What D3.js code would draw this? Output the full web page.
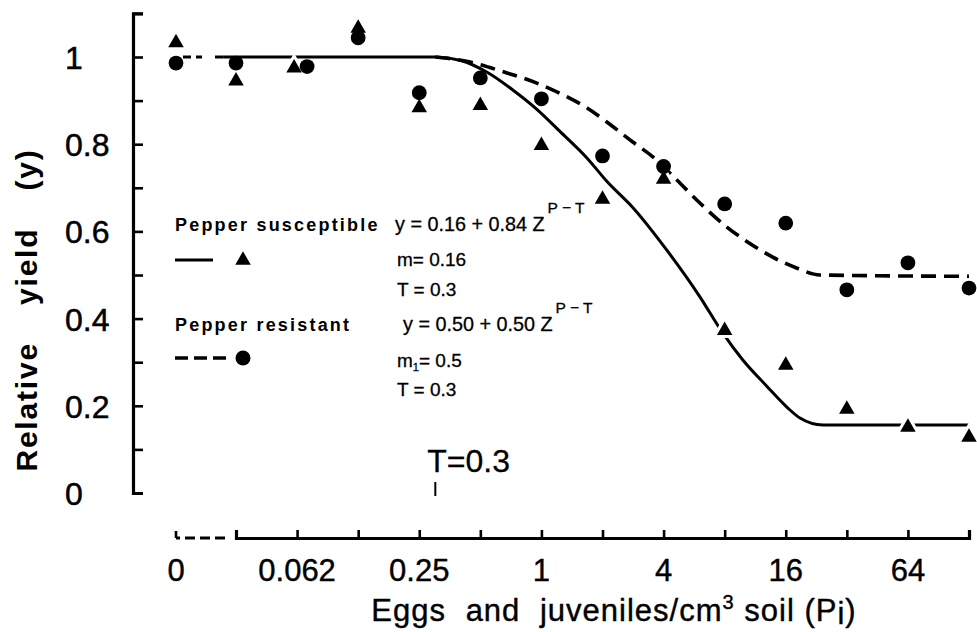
<!DOCTYPE html>
<html>
<head>
<meta charset="utf-8">
<script src="https://cdn.jsdelivr.net/npm/d3@7"></script>
<style>
  body { margin: 0; background: #fff; }
  svg { display: block; font-family: "Liberation Sans", Arial, Helvetica, sans-serif; }
</style>
</head>
<body>
<svg id="chart" width="977" height="632"></svg>
<script>
// nematode densities (eggs and juveniles / cm3 soil); 0 = control
const densities = [0, 1/32, 1/16, 1/8, 1/4, 1/2, 1, 2, 4, 8, 16, 32, 64, 128];
const susceptibleYield = [1.038, 0.950, 0.980, 1.071, 0.889, 0.894, 0.802, 0.679, 0.725, 0.378, 0.298, 0.197, 0.156, 0.133];
const resistantYield   = [0.986, 0.986, 0.978, 1.044, 0.918, 0.952, 0.904, 0.773, 0.749, 0.663, 0.619, 0.466, 0.528, 0.470];

// fitted curves
const susceptibleCurveP = [0.027, 0.30, 0.40, 0.54, 0.72, 0.95, 1.23, 1.68, 2.10, 2.82, 4.15, 6.04, 7.75, 9.83, 12.9, 16.2, 18.8, 24.4, 128];
const susceptibleCurveY = [1, 1, 0.992, 0.965, 0.925, 0.880, 0.830, 0.768, 0.715, 0.655, 0.557, 0.450, 0.370, 0.305, 0.245, 0.197, 0.172, 0.156, 0.156];
const resistantCurveP = [0.30, 0.44, 0.65, 0.95, 1.28, 1.68, 2.10, 2.82, 3.54, 4.65, 6.04, 8.20, 10.6, 13.8, 18.1, 23.6, 128];
const resistantCurveY = [1, 0.989, 0.966, 0.940, 0.913, 0.883, 0.851, 0.805, 0.771, 0.718, 0.665, 0.610, 0.573, 0.541, 0.516, 0.500, 0.497];

const xTickValues = [1/32, 1/16, 1/8, 1/4, 1/2, 1, 2, 4, 8, 16, 32, 64, 128];
const xLabelValues = [1/16, 1/4, 1, 4, 16, 64];
const xLabelTexts = ['0.062', '0.25', '1', '4', '16', '64'];
const yTickValues = [0, 0.1, 0.2, 0.3, 0.4, 0.5, 0.6, 0.7, 0.8, 0.9, 1, 1.1];
const yLabelValues = [0, 0.2, 0.4, 0.6, 0.8, 1];
const yLabelTexts = ['0', '0.2', '0.4', '0.6', '0.8', '1'];
const thresholdT = 0.3;

const svg = d3.select('#chart');

const x = d3.scaleLog().base(2).domain([1/32, 128]).range([236, 969]);
const y = d3.scaleLinear().domain([0, 1.1]).range([493, 13.4]);
const zeroX = 176;
const xPos = p => p === 0 ? zeroX : x(p);
const axisY = 538;

// triangle marker centred on its box
const triangle = (w, h) => `M0,${-h / 2}L${w / 2},${h / 2}L${-w / 2},${h / 2}Z`;

// ---- y axis
const yAxis = svg.append('g')
    .attr('transform', 'translate(133,0)')
    .call(d3.axisLeft(y).tickValues(yTickValues).tickSize(-10).tickSizeOuter(-10).tickFormat(''));
yAxis.select('.domain').attr('stroke-width', 3.2);
yAxis.selectAll('.tick line').attr('stroke-width', 2.6);

svg.append('g').selectAll('text')
    .data(yLabelValues)
    .join('text')
    .attr('x', 65)
    .attr('y', d => y(d) + 12)
    .attr('font-size', 32)
    .attr('stroke', '#000')
    .attr('stroke-width', 0.5)
    .text((d, i) => yLabelTexts[i]);

svg.append('text')
    .attr('transform', 'translate(37,310) rotate(-90)')
    .attr('text-anchor', 'middle')
    .attr('font-size', 30)
    .attr('font-weight', 'bold')
    .attr('letter-spacing', 1.8)
    .attr('word-spacing', 27)
    .text('Relative yield (y)');

// ---- x axis
const xAxis = svg.append('g')
    .attr('transform', `translate(0,${axisY})`)
    .call(d3.axisBottom(x).tickValues(xTickValues).tickSize(-8).tickSizeOuter(-8).tickFormat(''));
xAxis.select('.domain').attr('stroke-width', 3.2);
xAxis.selectAll('.tick line').attr('stroke-width', 2.6);

// broken part of the axis towards 0
svg.append('path')
    .attr('d', `M${zeroX},${axisY - 7}V${axisY}`)
    .attr('stroke', '#000').attr('stroke-width', 2.6);
svg.append('line')
    .attr('x1', zeroX).attr('x2', 228)
    .attr('y1', axisY).attr('y2', axisY)
    .attr('stroke', '#000').attr('stroke-width', 3.2)
    .attr('stroke-dasharray', '4,5,10,5,10,5,10');

svg.append('g').selectAll('text')
    .data([0].concat(xLabelValues))
    .join('text')
    .attr('x', d => xPos(d))
    .attr('y', 581)
    .attr('text-anchor', 'middle')
    .attr('font-size', 31)
    .attr('stroke', '#000')
    .attr('stroke-width', 0.4)
    .text((d, i) => i === 0 ? '0' : xLabelTexts[i - 1]);

const xTitle = svg.append('text')
    .attr('x', 614)
    .attr('y', 621)
    .attr('text-anchor', 'middle')
    .attr('font-size', 31)
    .attr('letter-spacing', 1)
    .attr('stroke', '#000')
    .attr('stroke-width', 0.4);
xTitle.append('tspan').attr('word-spacing', 10).text('Eggs  and  juveniles/cm');
xTitle.append('tspan').attr('font-size', 20).attr('dy', -12).text('3');
xTitle.append('tspan').attr('dy', 12).text(' soil (P');
xTitle.append('tspan').attr('dy', 3).text('i');
xTitle.append('tspan').attr('dy', -3).text(')');

// ---- threshold marker
svg.append('line')
    .attr('x1', x(thresholdT)).attr('x2', x(thresholdT))
    .attr('y1', 482).attr('y2', 496)
    .attr('stroke', '#000').attr('stroke-width', 2);
svg.append('text')
    .attr('x', x(thresholdT) - 8)
    .attr('y', 472)
    .attr('font-size', 32)
    .attr('stroke', '#000')
    .attr('stroke-width', 0.3)
    .text('T=0.3');

// ---- curves
const line = d3.line()
    .x(d => xPos(d[0]))
    .y(d => y(d[1]))
    .curve(d3.curveMonotoneX);

svg.append('path')
    .attr('d', line([[0, 1], [0.027, 1]]))
    .attr('fill', 'none').attr('stroke', '#000').attr('stroke-width', 3)
    .attr('stroke-dasharray', '0,7,8,5,6,6');

svg.append('path')
    .attr('d', line(susceptibleCurveP.map((p, i) => [p, susceptibleCurveY[i]])))
    .attr('fill', 'none').attr('stroke', '#000').attr('stroke-width', 3);

svg.append('path')
    .attr('d', line(resistantCurveP.map((p, i) => [p, resistantCurveY[i]])))
    .attr('fill', 'none').attr('stroke', '#000').attr('stroke-width', 3.6)
    .attr('stroke-dasharray', '15,8');

// ---- points (the two markers at 0.062 are set side by side in the original)
const nudge = (i, dx) => i === 2 ? dx : 0;

svg.append('g').selectAll('path')
    .data(susceptibleYield)
    .join('path')
    .attr('d', triangle(15.5, 13.5))
    .attr('transform', (d, i) => `translate(${xPos(densities[i]) + nudge(i, -3)},${y(d)})`)
    .attr('fill', 'none').attr('stroke', '#fff').attr('stroke-width', 6);

svg.append('g').selectAll('circle')
    .data(resistantYield)
    .join('circle')
    .attr('cx', (d, i) => xPos(densities[i]) + nudge(i, 10))
    .attr('cy', d => y(d))
    .attr('r', 7.4)
    .attr('fill', '#000');

svg.append('g').selectAll('path')
    .data(susceptibleYield)
    .join('path')
    .attr('d', triangle(15.5, 13.5))
    .attr('transform', (d, i) => `translate(${xPos(densities[i]) + nudge(i, -3)},${y(d)})`)
    .attr('fill', '#000');

// ---- legend
const legend = svg.append('g');
const bold = (tx, ty, s) => legend.append('text')
    .attr('x', tx).attr('y', ty)
    .attr('font-size', 18).attr('font-weight', 'bold').attr('letter-spacing', 2.2)
    .text(s);
const plain = (tx, ty, fs = 19) => legend.append('text')
    .attr('x', tx).attr('y', ty)
    .attr('font-size', fs).attr('stroke', '#000').attr('stroke-width', 0.3);

bold(175, 231, 'Pepper susceptible');
bold(175, 331, 'Pepper resistant');

const eq1 = plain(395, 231, 19.8);
eq1.append('tspan').text('y = 0.16 + 0.84 Z');
eq1.append('tspan').attr('font-size', 15.5).attr('dx', 3).attr('dy', -18).text('P − T');
plain(397, 266).text('m= 0.16');
plain(397, 296).text('T = 0.3');

const eq2 = plain(403, 331, 19.8);
eq2.append('tspan').text('y = 0.50 + 0.50 Z');
eq2.append('tspan').attr('font-size', 15.5).attr('dx', 3).attr('dy', -18).text('P − T');
const m1 = plain(397, 367);
m1.append('tspan').text('m');
m1.append('tspan').attr('font-size', 11).attr('dy', 4).text('1');
m1.append('tspan').attr('dy', -4).text('= 0.5');
plain(397, 396).text('T = 0.3');

legend.append('line')
    .attr('x1', 175).attr('x2', 213).attr('y1', 260).attr('y2', 260)
    .attr('stroke', '#000').attr('stroke-width', 3);
legend.append('path')
    .attr('d', triangle(15.5, 13.5))
    .attr('transform', 'translate(243,258)')
    .attr('fill', '#000');
legend.append('line')
    .attr('x1', 175).attr('x2', 226).attr('y1', 358).attr('y2', 358)
    .attr('stroke', '#000').attr('stroke-width', 3.5)
    .attr('stroke-dasharray', '13,6');
legend.append('circle')
    .attr('cx', 243).attr('cy', 358).attr('r', 7.5)
    .attr('fill', '#000');
</script>
</body>
</html>
